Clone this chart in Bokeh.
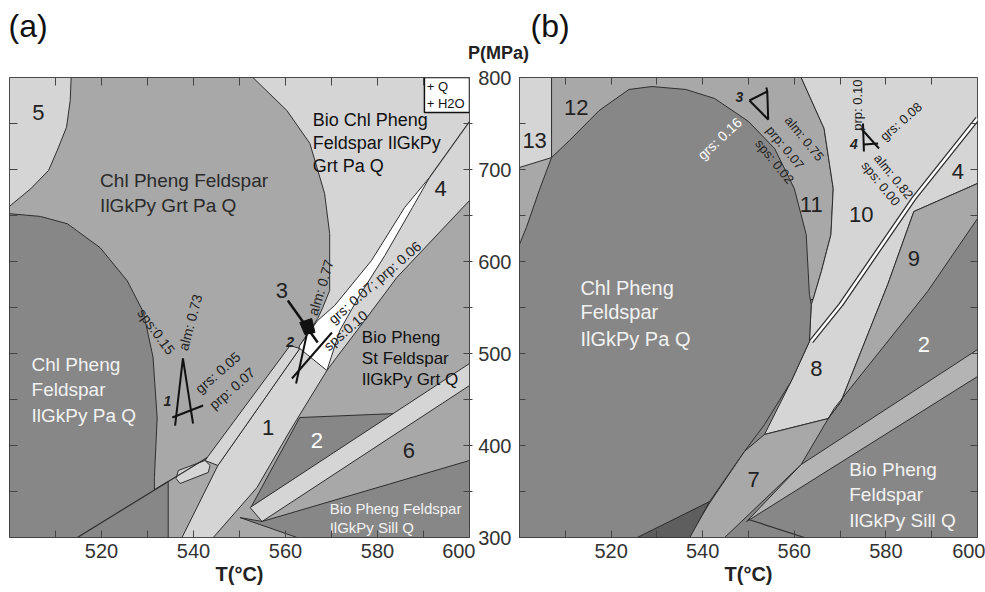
from bokeh.plotting import figure
from bokeh.layouts import row, column
from bokeh.models import FixedTicker, LinearAxis, ColumnDataSource
from bokeh.embed import file_html
from bokeh.resources import INLINE
from bokeh.core.properties import value

LIGHT = "#d5d5d5"; MED = "#a8a8a8"; DARK = "#878787"; DARKEST = "#5e5e5e"
BAND = "#b4b4b4"; EDGE = "#2e2e2e"; FONT = "Liberation Sans"

# axes
t_major = [520, 540, 560, 580, 600]
t_minor = [510, 530, 550, 570, 590]
t_all = [510, 520, 530, 540, 550, 560, 570, 580, 590]
p_major = [300, 400, 500, 600, 700, 800]
p_minor = [350, 450, 550, 650, 750]
p_all = [350, 400, 450, 500, 550, 600, 650, 700, 750]

# ---------------- panel (a) fields (T degC, P MPa) ----------------
a_r5_T = [500, 513.4, 513.2, 512.4, 510.4, 508.5, 504.6, 500]
a_r5_P = [800, 800, 775, 746, 721, 699, 679, 660]
a_chl_T = [500, 506.7, 512.6, 519.7, 525.6, 529.1, 531.2, 532.1, 531.5, 531.5, 534.5, 534.5, 500]
a_chl_P = [652, 649, 641, 615, 579, 545, 496, 430, 365, 352, 361, 300, 300]
a_biochl_T = [552.9, 600, 600, 584.2, 577.7, 571.1, 569.0, 561.0, 563.1, 567.0, 568.1, 569.6, 569.6, 568.5, 565.3, 560.3]
a_biochl_P = [800, 800, 666.3, 582.6, 539.1, 495.7, 481.5, 473.9, 508.7, 538.0, 550.0, 568.5, 630.4, 673.9, 728.3, 764.1]
a_white_T = [591.3, 585.9, 578.7, 570.7, 567.0, 563.1, 561.0, 569.0, 571.8, 576.1, 581.6, 587.6]
a_white_P = [691.3, 658.7, 601.1, 552.2, 535.9, 508.7, 473.9, 481.5, 525.0, 563.0, 606.5, 658.7]
a_band1_T = [537.5, 544.3, 553.8, 561.0, 569.0, 563.1, 545.3]
a_band1_P = [300, 300, 354.3, 416.3, 481.5, 505.4, 378.3]
a_ribbon_T = [542.5, 561.0, 563.1, 545.3]
a_ribbon_P = [383.7, 508.7, 505.4, 378.3]
a_blob_T = [536.2, 536.7, 542.5, 543.6, 543.2, 537.1]
a_blob_P = [364.1, 372.8, 383.7, 378.3, 370.7, 358.7]
a_r2_T = [563.1, 584.2, 552.5]
a_r2_P = [430.4, 434.8, 333.0]
a_lband_T = [600, 600, 554.9, 552.3]
a_lband_P = [489.1, 465.2, 317.4, 332.6]
a_sill_T = [600, 600, 562.5, 550.1, 554.9]
a_sill_P = [383.7, 300, 300, 321.7, 317.4]
a_line1_T = [514.75, 543.0]
a_line1_P = [300, 387]
a_lineA_T = [600, 591.3]
a_lineA_P = [752.2, 691.3]
# garnet isopleth markers (a)
a_m1_T = [536.0, 537.7, 539.9]; a_m1_P = [421.7, 494.6, 423.9]
a_m1bar_T = [535.4, 542.1]; a_m1bar_P = [430.4, 443.5]
a_m3arrow_T = [560.5, 567.0]; a_m3arrow_P = [557.6, 511.9]
a_m2leg_T = [564.9, 562.3]; a_m2leg_P = [527.2, 467.4]
a_m2bar_T = [561.4, 570.1]; a_m2bar_P = [472.8, 522.8]
a_m2head_T = [563.1, 565.7, 566.4, 564.2]; a_m2head_P = [533.7, 538.0, 522.8, 520.7]
box_T = [590.2, 600]; box_P = [762, 800]

# labels (a)
a_num_text = ["5", "4", "1", "6", "3"]
a_num_T = [506.3, 593.7, 556.2, 586.8, 559.2]
a_num_P = [762.0, 679.3, 419.6, 394.6, 568.5]
a_wnum_text = ["2"]; a_wnum_T = [566.8]; a_wnum_P = [405.4]
a_name1_text = ["Chl Pheng Feldspar", "IlGkPy Grt Pa Q"]
a_name1_T = [519.7, 519.7]; a_name1_P = [688.0, 660.9]
a_name2_text = ["Bio Chl Pheng", "Feldspar IlGkPy", "Grt Pa Q"]
a_name2_T = [565.9, 565.9, 565.9]; a_name2_P = [754.3, 728.3, 703.3]
a_name3_text = ["Bio Pheng", "St Feldspar", "IlGkPy Grt Q"]
a_name3_T = [576.6, 576.6, 576.6]; a_name3_P = [517.4, 494.6, 471.7]
a_wname1_text = ["Chl Pheng", "Feldspar", "IlGkPy Pa Q"]
a_wname1_T = [504.8, 504.8, 504.8]; a_wname1_P = [488.0, 460.9, 432.6]
a_wname2_text = ["Bio Pheng Feldspar", "IlGkPy Sill Q"]
a_wname2_T = [569.6, 569.6]; a_wname2_P = [331.5, 310.9]
a_iso_text = ["sps:0.15", "alm: 0.73", "grs: 0.05", "prp: 0.07", "alm: 0.77", "grs: 0.07; prp: 0.06", "sps:0.10"]
a_iso_T = [531.9, 539.3, 545.3, 548.4, 567.7, 579.4, 573.1]
a_iso_P = [524.0, 533.7, 479.3, 462.0, 571.7, 577.2, 525.0]
a_iso_ang = [-54, 75, 41, 41, 73, 41, 41]
a_mk_text = ["1", "2"]; a_mk_T = [534.3, 561.0]; a_mk_P = [448.9, 512.0]
box_text = ["+ Q", "+ H2O"]; box_tT = [590.7, 590.7]; box_tP = [790.2, 771.7]

# ---------------- panel (b) fields ----------------
b_med_T = [500, 561.5, 566.5, 568.5, 568.0, 565.9, 564.1, 562.6, 500]
b_med_P = [800, 800, 744.6, 679.3, 629.3, 589.1, 558.7, 558.7, 558.7]
b_light_T = [561.5, 600, 600, 586.1, 580.4, 570.2, 567.4, 553.5, 559.3, 563.3, 563.7, 564.1, 565.9, 568.0, 568.5, 566.5]
b_light_P = [800, 800, 684.8, 654.3, 575.0, 447.8, 429.3, 412.0, 469.6, 513.0, 553.3, 558.7, 589.1, 629.3, 679.3, 744.6]
b_r9_T = [586.1, 600, 600, 589.1, 568.7, 561.5, 544.8, 537.0, 541.3, 549.1, 553.5, 567.4, 570.2, 580.4]
b_r9_P = [654.3, 684.8, 646.7, 567.4, 440.2, 379.3, 300, 300, 335.9, 393.5, 412.0, 429.3, 447.8, 575.0]
b_band_T = [600, 600, 549.6, 561.5]
b_band_P = [504.3, 475.0, 317.4, 379.3]
b_chl_T = [500, 501.5, 504.3, 507.0, 510.9, 517.4, 523.9, 528.9, 536.3, 542.6, 550.0, 555.7, 560.0,
           562.6, 563.3, 563.7, 563.3, 559.3, 553.5, 549.1, 541.5, 537.0, 500]
b_chl_P = [618.5, 637.0, 677.2, 713.0, 731.5, 764.1, 787.0, 790.2, 787.0, 777.2, 752.2, 722.8, 679.3,
           629.3, 564.1, 553.3, 513.0, 469.6, 422.8, 393.5, 339.1, 300, 300]
b_dk_T = [525.7, 541.5, 537.2]; b_dk_P = [300, 339.1, 300]
b_r13_T = [500, 507.0, 507.0, 500]; b_r13_P = [800, 800, 713.0, 702.2]
b_wline_T = [600, 586.1, 570.2, 563.7]; b_wline_P = [755.4, 668.5, 553.3, 513.0]
b_low_T = [550.0, 562.2]; b_low_P = [319.6, 300]
b_m3_T = [550.2, 554.1, 554.3, 550.2]; b_m3_P = [775.0, 784.8, 754.3, 775.0]
b_m3tip_T = [554.1, 553.9]; b_m3tip_P = [784.8, 789.1]
b_m4v_T = [575.0, 575.2]; b_m4v_P = [750.0, 719.6]
b_m4d_T = [574.6, 578.5]; b_m4d_P = [744.6, 722.8]
b_m4h_T = [575.2, 578.3]; b_m4h_P = [727.2, 728.3]

b_num_text = ["13", "12", "11", "10", "4", "9", "8", "7"]
b_num_T = [503.3, 512.4, 563.7, 574.6, 595.7, 586.1, 564.8, 551.1]
b_num_P = [731.5, 767.4, 662.0, 651.1, 697.8, 603.3, 483.7, 363.0]
b_wnum_text = ["2"]; b_wnum_T = [588.3]; b_wnum_P = [509.8]
b_wname1_text = ["Chl Pheng", "Feldspar", "IlGkPy Pa Q"]
b_wname1_T = [513.3, 513.3, 513.3]; b_wname1_P = [571.7, 544.6, 516.3]
b_wname2_text = ["Bio Pheng", "Feldspar", "IlGkPy Sill Q"]
b_wname2_T = [572.0, 572.0, 572.0]; b_wname2_P = [373.9, 346.7, 318.5]
b_iso_text = ["prp: 0.07", "sps: 0.02", "alm: 0.75", "grs: 0.08", "alm: 0.82", "sps: 0.00", "prp: 0.10"]
b_iso_T = [558.0, 555.7, 562.2, 583.3, 581.7, 578.9, 573.9]
b_iso_P = [723.9, 708.7, 733.7, 752.2, 692.4, 684.8, 770.0]
b_iso_ang = [-51, -51, -51, 41, -51, -51, 90]
b_wiso_text = ["grs: 0.16"]; b_wiso_T = [543.7]; b_wiso_P = [733.7]; b_wiso_ang = [43]
b_mk_text = ["3", "4"]; b_mk_T = [548.0, 573.0]; b_mk_P = [779.3, 727.2]

# header texts (pixel positions in the header strip)
head_text = ["(a)", "(b)"]
head_x = [8, 530]; head_y = [25, 25]
unit_text = ["P(MPa)"]; unit_x = [498]; unit_y = [52]

HEAD_H = 63


def make_fig(left, right, bg):
    p = figure(width=left + 460 + right, height=592 - HEAD_H, x_range=(500, 600), y_range=(300, 800),
               output_backend="svg", toolbar_location=None,
               min_border_left=left, min_border_right=right, min_border_top=77 - HEAD_H,
               min_border_bottom=55, background_fill_color=bg, border_fill_color="white")
    p.xgrid.visible = False
    p.ygrid.visible = False
    p.outline_line_color = "#444"
    p.outline_line_width = 1
    return p


def style_axis(ax, ticks, minor, tin=7, tout=0):
    ax.ticker = FixedTicker(ticks=ticks, minor_ticks=minor)
    ax.major_tick_in = tin; ax.major_tick_out = tout
    ax.minor_tick_in = tin; ax.minor_tick_out = tout
    ax.major_tick_line_color = "#444"; ax.minor_tick_line_color = "#444"
    ax.axis_line_color = None
    ax.major_label_text_font = FONT
    ax.major_label_text_font_size = "20px"
    ax.major_label_text_color = "#333"


def tick_only_axis(p, side, minor, tin=7, tout=0):
    ax = LinearAxis(ticker=FixedTicker(ticks=[], minor_ticks=minor))
    ax.minor_tick_in = tin; ax.minor_tick_out = tout
    ax.minor_tick_line_color = "#444"
    ax.major_tick_line_color = None
    ax.axis_line_color = None
    p.add_layout(ax, side)
    return ax


def patch(p, xs, ys, color):
    p.patch(xs, ys, fill_color=color, line_color=EDGE, line_width=1)


def texts(p, xs, ys, tx, size, color, align="center", angles=None, style="normal"):
    src = ColumnDataSource(dict(x=xs, y=ys, t=tx, a=angles if angles else [0] * len(xs)))
    p.text(x="x", y="y", text="t", angle="a", angle_units="deg", source=src,
           text_font=value(FONT), text_font_size=size, text_color=color,
           text_align=align, text_baseline="middle", text_font_style=style)


def lines(p, xs, ys, w=2, color="#111"):
    p.line(xs, ys, line_color=color, line_width=w)


def style_bottom(ax):
    style_axis(ax, t_major, t_minor)
    ax.axis_label = "T(°C)"
    ax.axis_label_text_font = FONT
    ax.axis_label_text_font_size = "20px"
    ax.axis_label_text_font_style = "bold"
    ax.axis_label_text_color = "#222"
    ax.axis_label_standoff = 2
    ax.major_label_standoff = 6


# ---------------- build (a) ----------------
pa = make_fig(9, 6, MED)
pa.yaxis.visible = False
style_bottom(pa.xaxis[0])
tick_only_axis(pa, "left", p_all, tin=8)
tick_only_axis(pa, "above", t_all, tin=8)
tick_only_axis(pa, "right", p_all, tin=6, tout=3)

patch(pa, a_r5_T, a_r5_P, LIGHT)
patch(pa, a_chl_T, a_chl_P, DARK)
patch(pa, a_biochl_T, a_biochl_P, LIGHT)
patch(pa, a_white_T, a_white_P, "white")
patch(pa, a_band1_T, a_band1_P, LIGHT)
patch(pa, a_ribbon_T, a_ribbon_P, LIGHT)
patch(pa, a_blob_T, a_blob_P, LIGHT)
patch(pa, a_r2_T, a_r2_P, DARK)
patch(pa, a_lband_T, a_lband_P, LIGHT)
patch(pa, a_sill_T, a_sill_P, DARK)
lines(pa, a_line1_T, a_line1_P, 1.2, EDGE)
lines(pa, a_lineA_T, a_lineA_P, 1.2, EDGE)
lines(pa, a_m1_T, a_m1_P)
lines(pa, a_m1bar_T, a_m1bar_P)
lines(pa, a_m3arrow_T, a_m3arrow_P, 2.5)
lines(pa, a_m2leg_T, a_m2leg_P)
lines(pa, a_m2bar_T, a_m2bar_P)
pa.patch(a_m2head_T, a_m2head_P, fill_color="#111", line_color="#111")
pa.quad(left=[box_T[0]], right=[box_T[1]], bottom=[box_P[0]], top=[box_P[1]],
        fill_color="white", line_color="#111", line_width=1.5)
texts(pa, box_tT, box_tP, box_text, "13px", "#111", align="left")

texts(pa, a_num_T, a_num_P, a_num_text, "22px", "#222")
texts(pa, a_wnum_T, a_wnum_P, a_wnum_text, "22px", "white")
texts(pa, a_name1_T, a_name1_P, a_name1_text, "19px", "#2a2a2a", align="left")
texts(pa, a_name2_T, a_name2_P, a_name2_text, "18px", "#111", align="left")
texts(pa, a_name3_T, a_name3_P, a_name3_text, "17px", "#111", align="left")
texts(pa, a_wname1_T, a_wname1_P, a_wname1_text, "19px", "#f2f2f2", align="left")
texts(pa, a_wname2_T, a_wname2_P, a_wname2_text, "15px", "#f2f2f2", align="left")
texts(pa, a_iso_T, a_iso_P, a_iso_text, "14px", "#222", angles=a_iso_ang)
texts(pa, a_mk_T, a_mk_P, a_mk_text, "14px", "#222", style="bold italic")

# ---------------- build (b) ----------------
pb = make_fig(42, 8, DARK)
style_bottom(pb.xaxis[0])
style_axis(pb.yaxis[0], p_major, p_minor, tin=6)
pb.yaxis[0].major_label_standoff = 8
tick_only_axis(pb, "above", t_all, tin=7)
tick_only_axis(pb, "right", p_all, tin=7)

patch(pb, b_med_T, b_med_P, MED)
patch(pb, b_light_T, b_light_P, LIGHT)
patch(pb, b_r9_T, b_r9_P, MED)
patch(pb, b_band_T, b_band_P, BAND)
patch(pb, b_chl_T, b_chl_P, DARK)
patch(pb, b_dk_T, b_dk_P, DARKEST)
patch(pb, b_r13_T, b_r13_P, LIGHT)
lines(pb, b_wline_T, b_wline_P, 5, EDGE)
lines(pb, b_wline_T, b_wline_P, 2.5, "white")
lines(pb, b_low_T, b_low_P, 1.2, EDGE)
lines(pb, b_m3_T, b_m3_P, 2)
lines(pb, b_m3tip_T, b_m3tip_P, 2)
lines(pb, b_m4v_T, b_m4v_P, 2)
lines(pb, b_m4d_T, b_m4d_P, 2)
lines(pb, b_m4h_T, b_m4h_P, 2)

texts(pb, b_num_T, b_num_P, b_num_text, "22px", "#222")
texts(pb, b_wnum_T, b_wnum_P, b_wnum_text, "22px", "white")
texts(pb, b_wname1_T, b_wname1_P, b_wname1_text, "20px", "#f2f2f2", align="left")
texts(pb, b_wname2_T, b_wname2_P, b_wname2_text, "19px", "#f2f2f2", align="left")
texts(pb, b_iso_T, b_iso_P, b_iso_text, "13px", "#222", angles=b_iso_ang)
texts(pb, b_wiso_T, b_wiso_P, b_wiso_text, "14px", "white", angles=b_wiso_ang)
texts(pb, b_mk_T, b_mk_P, b_mk_text, "14px", "#222", style="bold italic")

# ---------------- header strip: panel letters and pressure unit ----------------
head = figure(width=985, height=HEAD_H, x_range=(0, 985), y_range=(HEAD_H, 0),
              x_axis_type=None, y_axis_type=None, output_backend="svg", toolbar_location=None,
              min_border=0, outline_line_color=None, border_fill_color="white")
head.grid.visible = False
texts(head, head_x, head_y, head_text, "32px", "#111", align="left")
texts(head, unit_x, unit_y, unit_text, "18px", "#222", style="bold")

layout = column(head, row(pa, pb, spacing=0), spacing=0)
open("out.html", "w").write(file_html(layout, INLINE))
